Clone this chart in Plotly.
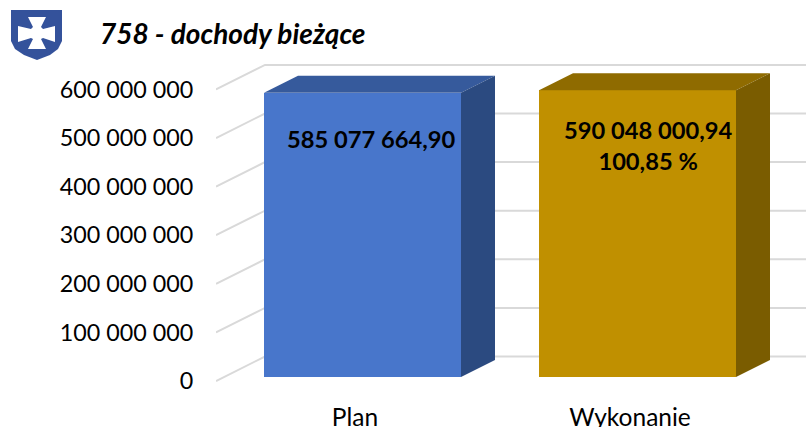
import plotly.graph_objects as go

categories = ["Plan", "Wykonanie"]
values = [585077664.90, 590048000.94]
value_labels = ["585 077 664,90", "590 048 000,94<br>100,85 %"]
tick_values = [0, 100000000, 200000000, 300000000, 400000000, 500000000, 600000000]
tick_labels = ["0", "100 000 000", "200 000 000", "300 000 000", "400 000 000", "500 000 000", "600 000 000"]
title_text = "758 - dochody bieżące"

front_colors = ["#4876CB", "#C09000"]
top_colors = ["#365A9C", "#8F6B00"]
side_colors = ["#2B4A80", "#7A5C00"]
grid_color = "#D9D9D9"
FONT = "Lato"

W, H = 806, 427
L, R, T, B = 216, 806, 55, 385
X0_PX, X_SCALE = 362.5, 275.0
Y0_PX, Y_SCALE = 377.0, 48.6 / 1e8
BAR_W = 197 / X_SCALE
DX, DY = 34 / X_SCALE, 17 / Y_SCALE
xr = [(L - X0_PX) / X_SCALE, (R - X0_PX) / X_SCALE]
yr = [(Y0_PX - B) / Y_SCALE, (Y0_PX - T) / Y_SCALE]
positions = [0, 1]
LABEL_SHIFT = 4 / Y_SCALE
WALL_LIFT = 20.5 / Y_SCALE
WALL_DX = 49 / X_SCALE
CAT_LABEL_SHIFT = 7.5 / X_SCALE

fig = go.Figure()

# front faces
fig.add_trace(go.Bar(x=positions, y=values, width=BAR_W, marker=dict(color=front_colors, line=dict(width=0)),
                     showlegend=False, hoverinfo="skip"))

# top and side faces derived from the values
for p, v, ct, cs in zip(positions, values, top_colors, side_colors):
    xl, xr_ = p - BAR_W / 2, p + BAR_W / 2
    fig.add_trace(go.Scatter(x=[xl, xl + DX, xr_ + DX, xr_, xl], y=[v, v + DY, v + DY, v, v], mode="lines",
                             fill="toself", fillcolor=ct, line=dict(width=0), showlegend=False, hoverinfo="skip"))
    fig.add_trace(go.Scatter(x=[xr_, xr_ + DX, xr_ + DX, xr_, xr_], y=[0, DY, v + DY, v, 0], mode="lines",
                             fill="toself", fillcolor=cs, line=dict(width=0), showlegend=False, hoverinfo="skip"))

# invisible trace so the label axis is drawn
fig.add_trace(go.Scatter(x=positions, y=values, yaxis="y2", mode="markers", marker=dict(opacity=0),
                         showlegend=False, hoverinfo="skip"))

# gridlines: side wall plus back wall
shapes = []
for v in tick_values:
    y_front = v - LABEL_SHIFT
    y_back = v + WALL_LIFT
    shapes.append(dict(type="path", xref="x", yref="y", layer="below",
                       path=f"M {xr[0]} {y_front} L {xr[0] + WALL_DX} {y_back} L {xr[1]} {y_back}",
                       line=dict(color=grid_color, width=2)))

# shield logo in page pixels
def px(x, y):
    return f"{(x - L) / (R - L):.5f} {(B - y) / (B - T):.5f}"

shield = [(11, 10), (62, 10), (62, 41), (58, 49), (50, 55), (37, 60), (24, 55), (15, 49), (11, 41)]
cross = [(28, 17), (46, 17), (41, 27), (43, 29), (55, 26), (55, 42), (43, 38), (41, 39), (46, 49), (28, 49),
         (33, 39), (31, 38), (18, 42), (18, 26), (31, 29), (33, 27)]
for pts, col in ((shield, "#34529B"), (cross, "#FFFFFF")):
    d = "M " + " L ".join(px(*q) for q in pts) + " Z"
    shapes.append(dict(type="path", xref="paper", yref="paper", path=d, fillcolor=col, line=dict(width=0)))

# value labels
annotations = [
    dict(x=positions[0] + 8 / X_SCALE, y=(Y0_PX - 139) / Y_SCALE, text=value_labels[0]),
    dict(x=positions[1] + 10 / X_SCALE, y=(Y0_PX - 145) / Y_SCALE, text=value_labels[1]),
]
for a in annotations:
    a.update(xref="x", yref="y", showarrow=False, align="center",
             font=dict(family=FONT, size=23.7, color="#000000", weight="bold"))

fig.update_layout(
    width=W, height=H, autosize=False,
    margin=dict(l=L, r=W - R, t=T, b=H - B, pad=0),
    paper_bgcolor="#FFFFFF", plot_bgcolor="rgba(0,0,0,0)",
    showlegend=False, bargap=0, shapes=shapes, annotations=annotations,
    title=dict(text=f"<b><i>{title_text}</i></b>", x=100 / W, xanchor="left", xref="container",
               y=1 - 34 / H, yanchor="middle", yref="container", automargin=False,
               font=dict(family=FONT, size=28, color="#000000")),
    xaxis=dict(range=xr, tickmode="array", tickvals=[p - CAT_LABEL_SHIFT for p in positions], ticktext=categories,
               showgrid=False, zeroline=False,
               showline=False, ticks="outside", ticklen=11, tickcolor="rgba(0,0,0,0)", automargin=False,
               tickfont=dict(family=FONT, size=24.5, color="#000000")),
    yaxis=dict(range=yr, showgrid=False, zeroline=False, showline=False, showticklabels=False, ticks="",
               automargin=False),
    yaxis2=dict(range=[yr[0] + LABEL_SHIFT, yr[1] + LABEL_SHIFT], overlaying="y", side="left", tickmode="array",
                tickvals=tick_values, ticktext=tick_labels, showgrid=False, zeroline=False, showline=False,
                ticks="outside", ticklen=17, tickcolor="rgba(0,0,0,0)", automargin=False,
                tickfont=dict(family=FONT, size=23.3, color="#000000")),
)

fig.write_html("out.html", post_script="document.body.style.margin='0';", config={"displayModeBar": False})
